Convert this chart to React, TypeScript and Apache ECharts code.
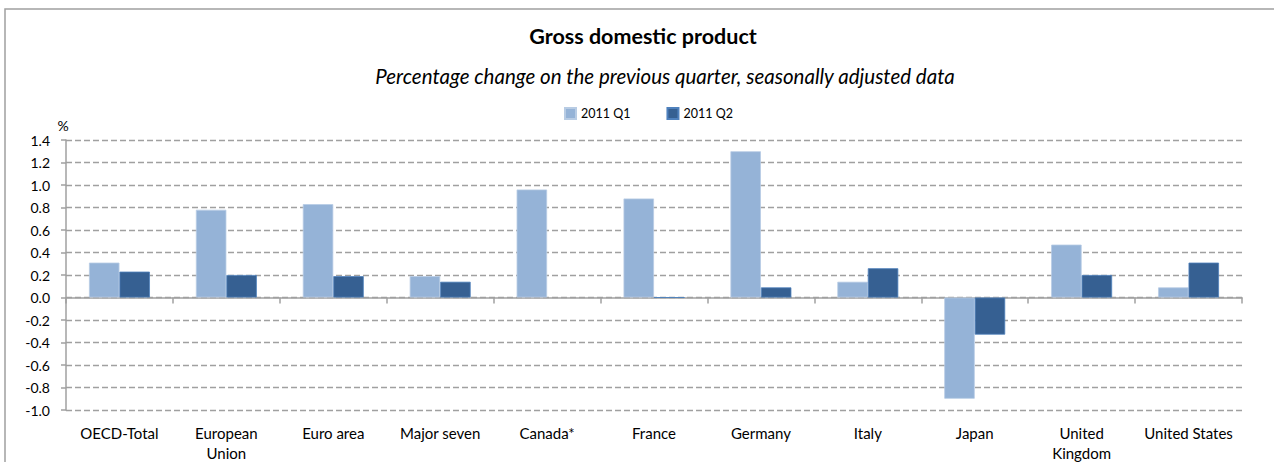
import React, { useEffect, useRef } from "react";
import * as echarts from "echarts";

const categories = [
  "OECD-Total",
  "European\nUnion",
  "Euro area",
  "Major seven",
  "Canada*",
  "France",
  "Germany",
  "Italy",
  "Japan",
  "United\nKingdom",
  "United States",
];
const q1Values = [0.31, 0.78, 0.83, 0.19, 0.96, 0.88, 1.3, 0.14, -0.9, 0.47, 0.09];
const q2Values: (number | null)[] = [0.23, 0.2, 0.19, 0.14, null, 0.0, 0.09, 0.26, -0.33, 0.2, 0.31];
const seriesNames = ["2011 Q1", "2011 Q2"];
const titleText = "Gross domestic product";
const subtitleText = "Percentage change on the previous quarter, seasonally adjusted data";
const yUnit = "%";

const FONT = "Lato, 'Open Sans', sans-serif";

export default function App() {
  const ref = useRef<HTMLDivElement>(null);
  useEffect(() => {
    if (!ref.current) return;
    const chart = echarts.init(ref.current, undefined, { renderer: "svg" });
    chart.setOption({
      animation: false,
      backgroundColor: "#ffffff",
      textStyle: { fontFamily: FONT },
      graphic: [
        {
          type: "rect",
          shape: { x: 5, y: 9, width: 1400, height: 600 },
          style: { fill: "none", stroke: "#a0a0a0", lineWidth: 1.5 },
          silent: true,
        },
        {
          type: "text",
          x: 643,
          y: 36,
          style: {
            text: titleText,
            font: `bold 21.5px ${FONT}`,
            fill: "#000",
            textAlign: "center",
            textVerticalAlign: "middle",
          },
        },
        {
          type: "text",
          x: 665,
          y: 76,
          style: {
            text: subtitleText,
            font: `italic 20.5px ${FONT}`,
            fill: "#000",
            textAlign: "center",
            textVerticalAlign: "middle",
          },
        },
        {
          type: "text",
          x: 63,
          y: 125,
          style: {
            text: yUnit,
            font: `14px ${FONT}`,
            fill: "#000",
            textAlign: "center",
            textVerticalAlign: "middle",
          },
        },
      ],
      legend: {
        data: seriesNames,
        left: 564,
        top: 107,
        padding: 0,
        itemWidth: 11,
        itemHeight: 11,
        itemGap: 36,
        icon: "rect",
        textStyle: { fontSize: 12.5, color: "#000", fontFamily: FONT },
      },
      grid: { left: 66, right: 32, top: 140, bottom: 52, outerBoundsMode: "none" },
      xAxis: [
        {
          type: "category",
          data: categories,
          axisLine: { onZero: true, lineStyle: { color: "#a0a0a0", width: 1.5 } },
          axisTick: { show: true, length: 6, lineStyle: { color: "#a0a0a0", width: 1.5 } },
          axisLabel: { show: false },
          splitLine: { show: false },
        },
        {
          type: "category",
          data: categories,
          position: "bottom",
          axisLine: { show: false, onZero: false },
          axisTick: { show: false },
          splitLine: { show: false },
          axisLabel: {
            show: true,
            interval: 0,
            margin: 13,
            fontSize: 15,
            lineHeight: 20,
            color: "#000",
            fontFamily: FONT,
          },
        },
      ],
      yAxis: {
        type: "value",
        min: -1,
        max: 1.4,
        interval: 0.2,
        axisLine: { show: true, lineStyle: { color: "#a0a0a0", width: 1.5 } },
        axisTick: { show: true, length: 5, lineStyle: { color: "#a0a0a0", width: 1.5 } },
        axisLabel: {
          fontSize: 14,
          color: "#000",
          margin: 16,
          fontFamily: FONT,
          formatter: (v: number) => v.toFixed(1),
        },
        splitLine: {
          show: true,
          lineStyle: { color: "#a0a0a0", type: [6, 3], width: 1.3 },
        },
      },
      series: [
        {
          name: seriesNames[0],
          type: "bar",
          xAxisIndex: 0,
          data: q1Values,
          barGap: "0%",
          barCategoryGap: "43%",
          itemStyle: { color: "#95B3D7", borderColor: "#b8cce4", borderWidth: 0.8 },
        },
        {
          name: seriesNames[1],
          type: "bar",
          xAxisIndex: 0,
          data: q2Values,
          barGap: "0%",
          barCategoryGap: "43%",
          itemStyle: { color: "#366092", borderColor: "#4f81bd", borderWidth: 0.8 },
        },
      ],
    });
    return () => chart.dispose();
  }, []);
  return (
    <div
      ref={ref}
      style={{ position: "fixed", left: 0, top: 0, width: 1274, height: 462 }}
    />
  );
}
